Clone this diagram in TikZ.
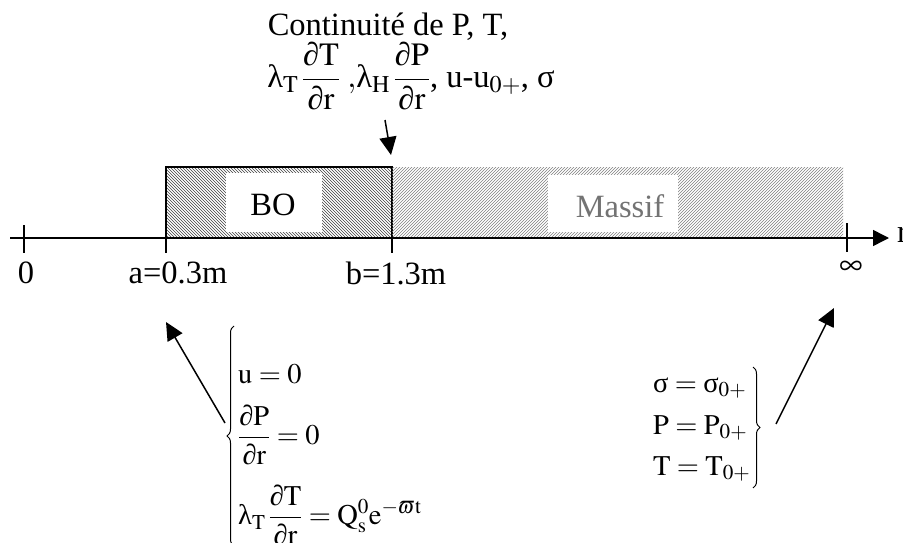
\documentclass[tikz,border=0pt]{standalone}
\usepackage{amsmath}
\usepackage{mathptmx}
\usepackage[no-math]{fontspec}
\setmainfont{Liberation Serif}
\usetikzlibrary{arrows.meta,patterns,decorations.pathreplacing}
\newcommand{\rmv}[1]{\mathrm{#1}}
\newcommand{\pd}{\text{∂}}
\begin{document}
\begin{tikzpicture}[x=1pt,y=-1pt,
  lab/.style={font=\fontsize{32.5}{38}\selectfont, inner sep=0pt},
  eq/.style={font=\fontsize{28.5}{33}\selectfont, inner sep=0pt},
  tickline/.style={line width=1.4pt},
  axisline/.style={line width=1.5pt},
  bigarrow/.style={line width=1.5pt, -{Triangle[length=18pt,width=17pt]}},
  brc/.style={decorate, decoration={brace, amplitude=7pt}, line width=1pt}]
\useasboundingbox (0,0) rectangle (903,543);

% regions
\fill[pattern=north west lines, pattern color=black!75] (166,167) rectangle (392,238);
\fill[white] (226,173) rectangle (322,232);
\node[lab] (bo) at (273,205) {BO};
\draw[line width=1.5pt] (166,238) -- (166,167) -- (392,167) -- (392,238);

\fill[pattern=north east lines, pattern color=black!50] (392,167) rectangle (843,238);
\fill[white] (548,175) rectangle (678,232);
\node[lab, text=black!55] (massif) at (620,206) {Massif};

% axis
\coordinate (ax0) at (10,238);
\coordinate (axend) at (889,238);
\draw[axisline, -{Triangle[length=16pt,width=16pt]}] (ax0) -- (axend);
\coordinate (t0a) at (24,225); \coordinate (t0b) at (24,253);
\coordinate (taa) at (166,238); \coordinate (tab) at (166,253);
\coordinate (tba) at (392,238); \coordinate (tbb) at (392,253);
\coordinate (tia) at (847,223); \coordinate (tib) at (847,252);
\draw[tickline] (t0a) -- (t0b);
\draw[tickline] (taa) -- (tab);
\draw[tickline] (tba) -- (tbb);
\draw[tickline] (tia) -- (tib);

\node[lab] (l0) at (26,273) {0};
\node[lab] (la) at (178,273) {a=0.3m};
\node[lab] (lb) at (396,273) {b=1.3m};
\node[lab] (linf) at (851,268) {$\infty$};
\node[lab, anchor=west] (lr) at (897,235) {r};

% top text
\node[lab] (t1) at (388,27) {Continuité de P, T,};
\node[lab] (t2) at (411,76) {$\text{λ}_{\rmv{T}}\,\displaystyle\frac{\pd\rmv{T}}{\pd\rmv{r}}\;,\!\text{λ}_{\rmv{H}}\,\frac{\pd\rmv{P}}{\pd\rmv{r}}$, u-u$_{0+}$, σ};
\coordinate (ta) at (385,120);
\coordinate (tb) at (391,155);
\draw[bigarrow] (ta) -- (tb);

% left system
\coordinate (la1) at (225,423);
\coordinate (la2) at (166,322);
\draw[bigarrow] (la1) -- (la2);
\coordinate (lbr1) at (234,546);
\coordinate (lbr2) at (234,326);
\draw[brc] (lbr1) -- (lbr2);
\node[eq, anchor=west] (e1) at (238,374) {$\rmv{u}=0$};
\node[eq, anchor=west] (e2) at (238,435) {$\displaystyle\frac{\pd\rmv{P}}{\pd\rmv{r}}=0$};
\node[eq, anchor=west] (e3) at (238,515) {$\text{λ}_{\rmv{T}}\,\displaystyle\frac{\pd\rmv{T}}{\pd\rmv{r}}=\rmv{Q}_{\rmv{s}}^{0}\rmv{e}^{-\varpi\rmv{t}}$};

% right system
\node[eq, anchor=west] (r1) at (653,388) {$\text{σ}=\text{σ}_{0+}$};
\node[eq, anchor=west] (r2) at (653,428) {$\rmv{P}=\rmv{P}_{0+}$};
\node[eq, anchor=west] (r3) at (653,469) {$\rmv{T}=\rmv{T}_{0+}$};
\coordinate (rbr1) at (753,367);
\coordinate (rbr2) at (753,488);
\draw[brc] (rbr1) -- (rbr2);
\coordinate (ra1) at (776,424);
\coordinate (ra2) at (834,308);
\draw[bigarrow] (ra1) -- (ra2);
\end{tikzpicture}
\end{document}
